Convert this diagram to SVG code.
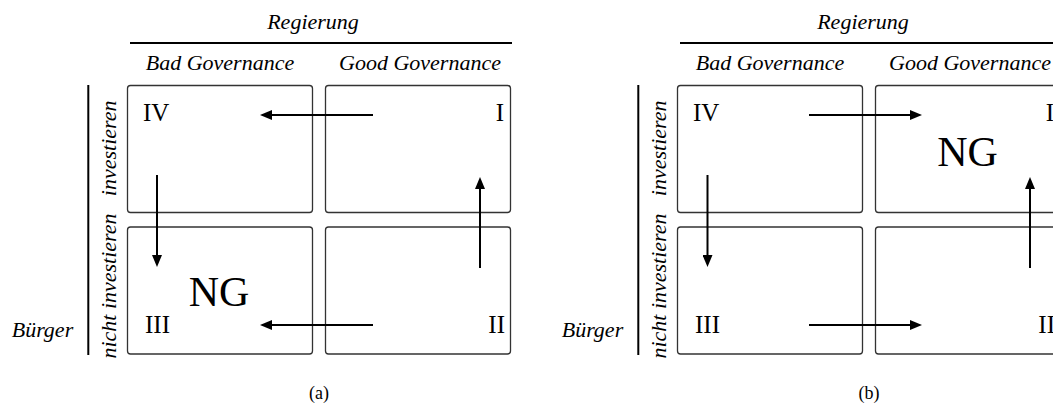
<svg xmlns="http://www.w3.org/2000/svg" width="1053" height="412" viewBox="0 0 1053 412">
<defs>
<style>
.lbl{font-family:"Liberation Serif","Times New Roman",serif;font-style:italic;font-size:22px;fill:#000}
.num{font-family:"Liberation Serif","Times New Roman",serif;font-size:25px;fill:#000}
.ng{font-family:"Liberation Serif","Times New Roman",serif;font-size:42px;fill:#000}
.cap{font-family:"Liberation Serif","Times New Roman",serif;font-size:18px;fill:#000}
.box{fill:none;stroke:#333;stroke-width:1.3}
.rule{stroke:#000;stroke-width:2;fill:none}
.arr{stroke:#000;stroke-width:2;fill:none;marker-end:url(#ah)}
</style>
<marker id="ah" markerWidth="12" markerHeight="10" refX="0" refY="5" orient="auto" markerUnits="userSpaceOnUse">
<path d="M0,0 L12,5 L0,10 z" fill="#000"/>
</marker>
</defs>
<rect width="1053" height="412" fill="#fff"/>

<!-- Panel (a) -->
<g id="a-axes">
<text class="lbl" x="313" y="29" text-anchor="middle">Regierung</text>
<line class="rule" x1="130" y1="43" x2="512" y2="43"/>
<text class="lbl" x="220" y="70" text-anchor="middle">Bad Governance</text>
<text class="lbl" x="420" y="70" text-anchor="middle">Good Governance</text>
<line class="rule" x1="88.3" y1="85" x2="88.3" y2="355"/>
<text class="lbl" transform="translate(116,148.3) rotate(-90)" text-anchor="middle">investieren</text>
<text class="lbl" transform="translate(116,286) rotate(-90)" text-anchor="middle">nicht investieren</text>
<text class="lbl" x="11.7" y="337">Bürger</text>
<text class="cap" x="319" y="399" text-anchor="middle">(a)</text>
</g>
<g id="a-IV">
<rect class="box" x="127.5" y="85.5" width="185" height="127" rx="3"/>
<text class="num" x="143" y="120.5">IV</text>
</g>
<g id="a-I">
<rect class="box" x="325.5" y="85.5" width="185" height="127" rx="3"/>
<text class="num" x="504" y="120.5" text-anchor="end">I</text>
</g>
<g id="a-III">
<rect class="box" x="127.5" y="227" width="185" height="127" rx="3"/>
<text class="num" x="145" y="333">III</text>
<text class="ng" x="219" y="306" text-anchor="middle">NG</text>
</g>
<g id="a-II">
<rect class="box" x="325.5" y="227" width="185" height="127" rx="3"/>
<text class="num" x="505" y="333" text-anchor="end">II</text>
</g>

<!-- Panel (b) -->
<g id="b-axes">
<text class="lbl" x="863" y="29" text-anchor="middle">Regierung</text>
<line class="rule" x1="680" y1="43" x2="1062" y2="43"/>
<text class="lbl" x="770" y="70" text-anchor="middle">Bad Governance</text>
<text class="lbl" x="970" y="70" text-anchor="middle">Good Governance</text>
<line class="rule" x1="638.3" y1="85" x2="638.3" y2="355"/>
<text class="lbl" transform="translate(666,148.3) rotate(-90)" text-anchor="middle">investieren</text>
<text class="lbl" transform="translate(666,286) rotate(-90)" text-anchor="middle">nicht investieren</text>
<text class="lbl" x="561.7" y="337">Bürger</text>
<text class="cap" x="869" y="399" text-anchor="middle">(b)</text>
</g>
<g id="b-IV">
<rect class="box" x="677.5" y="85.5" width="185" height="127" rx="3"/>
<text class="num" x="693" y="120.5">IV</text>
</g>
<g id="b-I">
<rect class="box" x="875.5" y="85.5" width="185" height="127" rx="3"/>
<text class="num" x="1054" y="120.5" text-anchor="end">I</text>
<text class="ng" x="967.5" y="166" text-anchor="middle">NG</text>
</g>
<g id="b-III">
<rect class="box" x="677.5" y="227" width="185" height="127" rx="3"/>
<text class="num" x="695" y="333">III</text>
</g>
<g id="b-II">
<rect class="box" x="875.5" y="227" width="185" height="127" rx="3"/>
<text class="num" x="1055" y="333" text-anchor="end">II</text>
</g>

<g id="connectors">
<line class="arr" x1="373" y1="115" x2="272" y2="115"/>
<line class="arr" x1="157" y1="175" x2="157" y2="255"/>
<line class="arr" x1="480" y1="268" x2="480" y2="189"/>
<line class="arr" x1="373" y1="325" x2="272" y2="325"/>
<line class="arr" x1="809" y1="115" x2="910" y2="115"/>
<line class="arr" x1="707.5" y1="175" x2="707.5" y2="255"/>
<line class="arr" x1="1030" y1="268" x2="1030" y2="189"/>
<line class="arr" x1="809" y1="325" x2="910" y2="325"/>
</g>
</svg>
